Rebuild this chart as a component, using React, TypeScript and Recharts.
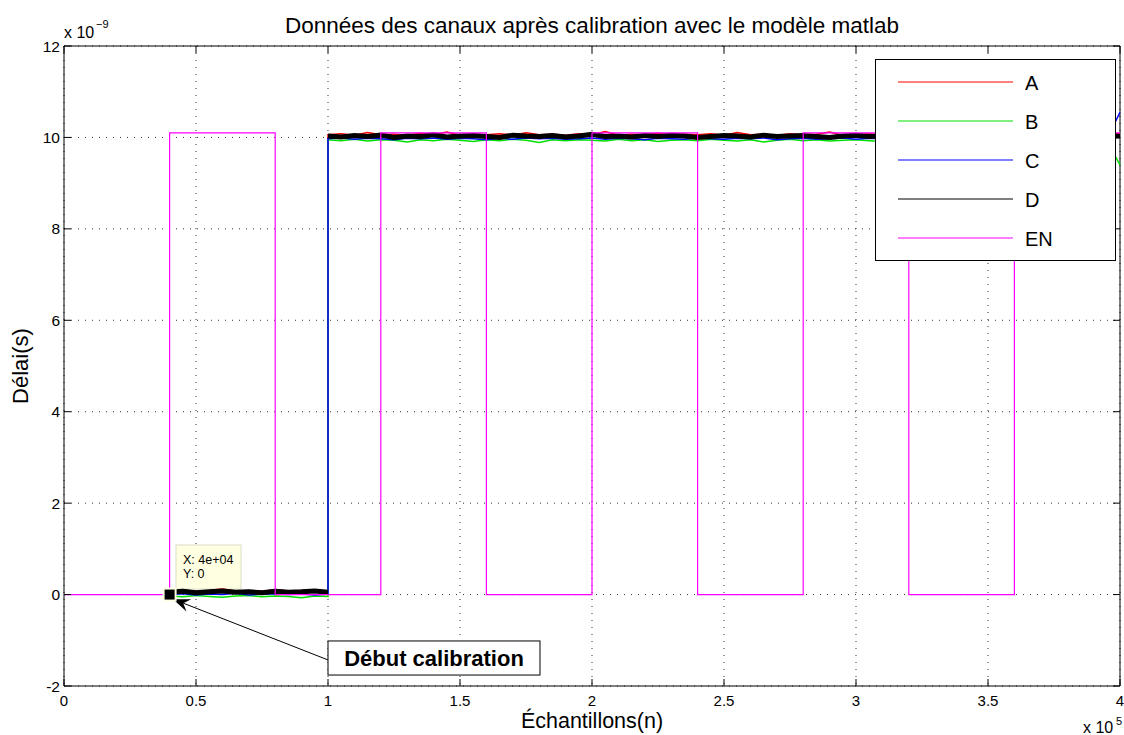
import React from 'react';
import {
  LineChart,
  Line,
  XAxis,
  YAxis,
  CartesianGrid,
  Legend,
  ReferenceLine,
  ReferenceArea,
  ReferenceDot,
  Label,
  Customized,
} from 'recharts';

const FONT = '"Liberation Sans", Arial, Helvetica, sans-serif';
const W = 1124;
const H = 735;
const PLOT_LEFT = 64;
const PLOT_TOP = 46;
const PLOT_RIGHT = 1120;
const PLOT_BOTTOM = 686;

// sample index of each channel point (x 10^5 on the axis); the middle 100000 is the step gap
const sampleX = [
  40000, 45000, 50000, 55000, 60000, 65000, 70000, 75000, 80000, 85000, 90000, 95000, 100000,
  100000,
  100000, 105000, 110000, 115000, 120000, 125000, 130000, 135000, 140000, 145000,
  150000, 155000, 160000, 165000, 170000, 175000, 180000, 185000, 190000, 195000,
  200000, 205000, 210000, 215000, 220000, 225000, 230000, 235000, 240000, 245000,
  250000, 255000, 260000, 265000, 270000, 275000, 280000, 285000, 290000, 295000,
  300000, 305000, 310000, 315000, 320000, 325000, 330000, 335000, 340000, 345000,
  350000, 355000, 360000, 365000, 370000, 375000, 380000, 385000, 390000, 395000,
  400000,
];

// delays in ns (axis shows x 10^-9)
const chA = [
  0.08, 0.10, 0.07, 0.09, 0.12, 0.08, 0.09, 0.07, 0.11, 0.08, 0.09, 0.10, 0.08,
  null,
  10.06, 10.08, 10.05, 10.11, 10.06, 10.07, 10.05, 10.09, 10.06, 10.12,
  10.05, 10.07, 10.06, 10.08, 10.05, 10.10, 10.06, 10.07, 10.05, 10.08,
  10.06, 10.13, 10.05, 10.07, 10.06, 10.09, 10.05, 10.07, 10.06, 10.08,
  10.05, 10.11, 10.06, 10.07, 10.05, 10.08, 10.06, 10.07, 10.12, 10.05,
  10.06, 10.08, 10.05, 10.07, 10.06, 10.10, 10.05, 10.07, 10.06, 10.09,
  10.05, 10.07, 10.11, 10.06, 10.05, 10.08, 10.06, 10.07, 10.05, 10.09,
  10.08,
];
const chB = [
  -0.03, -0.05, -0.02, -0.04, -0.06, -0.03, -0.02, -0.05, -0.03, -0.04, -0.07, -0.03, -0.04,
  null,
  9.95, 9.93, 9.96, 9.92, 9.95, 9.94, 9.90, 9.95, 9.93, 9.96,
  9.94, 9.91, 9.95, 9.93, 9.96, 9.94, 9.89, 9.95, 9.93, 9.95,
  9.94, 9.92, 9.96, 9.93, 9.95, 9.91, 9.94, 9.95, 9.93, 9.96,
  9.94, 9.92, 9.95, 9.90, 9.94, 9.96, 9.93, 9.95, 9.92, 9.94,
  9.95, 9.93, 9.91, 9.95, 9.94, 9.96, 9.93, 9.90, 9.95, 9.94,
  9.92, 9.95, 9.93, 9.96, 9.94, 9.91, 9.95, 9.93, 9.94, 9.92,
  9.40,
];
const chC = [
  0.00, 0.02, -0.01, 0.01, 0.00, 0.03, -0.01, 0.01, 0.02, 0.00, 0.01, -0.01, 0.01,
  null,
  9.97, 9.99, 9.96, 9.98, 9.97, 9.95, 9.98, 9.97, 9.99, 9.96,
  9.98, 9.97, 9.95, 9.98, 9.96, 9.99, 9.97, 9.98, 9.96, 9.97,
  9.99, 9.96, 9.98, 9.97, 9.95, 9.98, 9.97, 9.96, 9.99, 9.97,
  9.96, 9.98, 9.97, 9.99, 9.95, 9.97, 9.98, 9.96, 9.97, 9.99,
  9.96, 9.98, 9.97, 9.95, 9.98, 9.97, 9.99, 9.96, 9.97, 9.98,
  9.96, 9.97, 9.99, 9.95, 9.98, 9.97, 9.96, 9.98, 9.97, 9.96,
  10.55,
];
const chD = [
  0.05, 0.07, 0.04, 0.06, 0.08, 0.05, 0.06, 0.04, 0.07, 0.05, 0.06, 0.08, 0.05,
  null,
  10.03, 10.01, 10.04, 10.02, 10.05, 10.00, 10.03, 10.02, 10.06, 10.01,
  10.03, 10.04, 10.02, 10.00, 10.05, 10.03, 10.02, 10.04, 10.01, 10.03,
  10.07, 10.02, 10.03, 10.01, 10.04, 10.02, 10.05, 10.03, 10.00, 10.02,
  10.04, 10.03, 10.01, 10.05, 10.02, 10.03, 10.04, 10.02, 10.00, 10.03,
  10.05, 10.02, 10.03, 10.01, 10.04, 10.02, 10.03, 10.06, 10.01, 10.03,
  10.02, 10.04, 10.03, 10.00, 10.02, 10.05, 10.03, 10.01, 10.04, 10.02,
  10.03,
];

// enable signal, step after each edge
const enX = [0, 40000, 80000, 120000, 160000, 200000, 240000, 280000, 320000, 360000, 400000];
const enVal = [0, 10.1, 0, 10.1, 0, 10.1, 0, 10.1, 0, 10.1, 10.1];

const xTicks = [0, 50000, 100000, 150000, 200000, 250000, 300000, 350000, 400000];
const yTicks = [-2, 0, 2, 4, 6, 8, 10, 12];

const channelRows = sampleX.map((x, i) => ({ x, A: chA[i], B: chB[i], C: chC[i], D: chD[i] }));
const enRows = enX.map((x, i) => ({ x, EN: enVal[i] }));

const XTick = (props: any) => {
  const { x, payload } = props;
  return (
    <g>
      <line x1={x} x2={x} y1={PLOT_BOTTOM} y2={PLOT_BOTTOM - 7} stroke="#000" />
      <line x1={x} x2={x} y1={PLOT_TOP} y2={PLOT_TOP + 7} stroke="#000" />
      <text x={x} y={PLOT_BOTTOM + 20} textAnchor="middle" fontSize={15} fontFamily={FONT} fill="#000">
        {String(payload.value / 100000)}
      </text>
    </g>
  );
};

const YTick = (props: any) => {
  const { y, payload } = props;
  return (
    <g>
      <line x1={PLOT_LEFT} x2={PLOT_LEFT + 7} y1={y} y2={y} stroke="#000" />
      <line x1={PLOT_RIGHT} x2={PLOT_RIGHT - 7} y1={y} y2={y} stroke="#000" />
      <text x={PLOT_LEFT - 4} y={y + 5.5} textAnchor="end" fontSize={15.5} fontFamily={FONT} fill="#000">
        {String(payload.value)}
      </text>
    </g>
  );
};

const LegendBox = (props: any) => {
  const items = props.payload || [];
  return (
    <svg width={241} height={202} style={{ display: 'block' }}>
      <rect x={0.5} y={0.5} width={240} height={201} fill="#fff" stroke="#000" />
      {items.map((it: any, i: number) => (
        <g key={i}>
          <line x1={23} x2={138} y1={23 + i * 39} y2={23 + i * 39} stroke={it.color} strokeWidth={1} />
          <text x={150} y={31 + i * 39} fontSize={20} fontFamily={FONT} fill="#000">
            {it.value}
          </text>
        </g>
      ))}
    </svg>
  );
};

const Arrow = (props: any) => {
  const { x1, y1, x2, y2 } = props;
  const dx = x2 - x1;
  const dy = y2 - y1;
  const len = Math.sqrt(dx * dx + dy * dy) || 1;
  const ux = dx / len;
  const uy = dy / len;
  const px = -uy;
  const py = ux;
  const head = 17;
  const half = 6.5;
  const notch = 11;
  const bx = x2 - ux * head;
  const by = y2 - uy * head;
  const nx = x2 - ux * notch;
  const ny = y2 - uy * notch;
  const pts = `${x2},${y2} ${bx + px * half},${by + py * half} ${nx},${ny} ${bx - px * half},${by - py * half}`;
  return (
    <g>
      <line x1={x1} y1={y1} x2={nx} y2={ny} stroke="#000" strokeWidth={1} />
      <polygon points={pts} fill="#000" />
    </g>
  );
};

const DataTip = (props: any) => {
  const { x, y, width, height } = props;
  return (
    <g>
      <rect x={x} y={y} width={width} height={height} fill="#FFFFE1" stroke="#DCDCC8" />
      <text x={x + 7} y={y + 19} fontSize={12.5} fontFamily={FONT} fill="#000">X: 4e+04</text>
      <text x={x + 7} y={y + 33} fontSize={12.5} fontFamily={FONT} fill="#000">Y: 0</text>
    </g>
  );
};

const CalloutBox = (props: any) => {
  const { x, y, width, height } = props;
  return (
    <g>
      <rect x={x} y={y} width={width} height={height} fill="#fff" stroke="#000" />
      <text
        x={x + width / 2}
        y={y + height / 2 + 8}
        textAnchor="middle"
        fontSize={22}
        fontWeight="bold"
        fontFamily={FONT}
        fill="#000"
      >
        Début calibration
      </text>
    </g>
  );
};

const Marker = (props: any) => {
  const { cx, cy } = props;
  return (
    <g>
      <rect x={cx - 7} y={cy - 7} width={14} height={14} fill="#FFFFE1" />
      <rect x={cx - 5} y={cy - 5} width={10} height={10} fill="#000" />
    </g>
  );
};

const Decorations = () => (
  <g fontFamily={FONT} fill="#000">
    <text x={(PLOT_LEFT + PLOT_RIGHT) / 2} y={33} textAnchor="middle" fontSize={22.5}>
      Données des canaux après calibration avec le modèle matlab
    </text>
    <text x={64} y={38} fontSize={16}>x 10</text>
    <text x={96} y={28} fontSize={11}>−9</text>
    <text x={1083} y={733} fontSize={16}>x 10</text>
    <text x={1116} y={725} fontSize={11}>5</text>
  </g>
);

export default function App() {
  return (
    <div style={{ position: 'absolute', left: 0, top: 0, width: W, height: H, background: '#fff' }}>
      <LineChart
        width={W}
        height={H}
        data={channelRows}
        margin={{ top: PLOT_TOP, right: W - PLOT_RIGHT, bottom: 0, left: 0 }}
        style={{ fontFamily: FONT }}
      >
        <CartesianGrid stroke="#333" strokeDasharray="1 6" />
        <XAxis
          dataKey="x"
          type="number"
          domain={[0, 400000]}
          ticks={xTicks}
          height={H - PLOT_BOTTOM}
          tickSize={0}
          tickMargin={0}
          tickLine={false}
          tick={<XTick />}
          axisLine={{ stroke: '#000' }}
          interval={0}
        >
          <Label
            content={() => (
              <text x={(PLOT_LEFT + PLOT_RIGHT) / 2} y={728} textAnchor="middle" fontSize={21.5} fontFamily={FONT} fill="#000">
                Échantillons(n)
              </text>
            )}
          />
        </XAxis>
        <YAxis
          type="number"
          domain={[-2, 12]}
          ticks={yTicks}
          width={PLOT_LEFT}
          tickSize={0}
          tickMargin={0}
          tickLine={false}
          tick={<YTick />}
          axisLine={{ stroke: '#000' }}
          interval={0}
        >
          <Label
            content={() => (
              <text
                transform={`translate(28, ${(PLOT_TOP + PLOT_BOTTOM) / 2}) rotate(-90)`}
                textAnchor="middle"
                fontSize={22}
                fontFamily={FONT}
                fill="#000"
              >
                Délai(s)
              </text>
            )}
          />
        </YAxis>
        <ReferenceLine y={12} stroke="#000" />
        <ReferenceLine x={400000} stroke="#000" />
        <ReferenceArea x1={100000} x2={180300} y1={-1.76} y2={-1.015} shape={<CalloutBox />} />
        <ReferenceArea x1={42420} x2={67050} y1={0.12} y2={1.085} shape={<DataTip />} />
        <Line dataKey="A" name="A" stroke="#FF0000" strokeWidth={1.5} dot={false} connectNulls isAnimationActive={false} />
        <Line dataKey="B" name="B" stroke="#00E000" strokeWidth={1.5} dot={false} connectNulls isAnimationActive={false} />
        <Line dataKey="C" name="C" stroke="#0000FF" strokeWidth={1.5} dot={false} connectNulls isAnimationActive={false} />
        <Line dataKey="D" name="D" stroke="#000000" strokeWidth={5} dot={false} isAnimationActive={false} />
        <Line
          data={enRows}
          dataKey="EN"
          name="EN"
          type="stepAfter"
          stroke="#FF00FF"
          strokeWidth={1.2}
          dot={false}
          isAnimationActive={false}
        />
        <ReferenceLine
          segment={[{ x: 100000, y: -1.43 }, { x: 41300, y: -0.1 }]}
          shape={<Arrow />}
        />
        <ReferenceDot x={40000} y={0} r={5} shape={<Marker />} />
        <Legend
          layout="horizontal"
          verticalAlign="middle"
          align="center"
          content={<LegendBox />}
          wrapperStyle={{ top: 59, left: 875, width: 241, height: 202 }}
        />
        <Customized component={Decorations} />
      </LineChart>
    </div>
  );
}
